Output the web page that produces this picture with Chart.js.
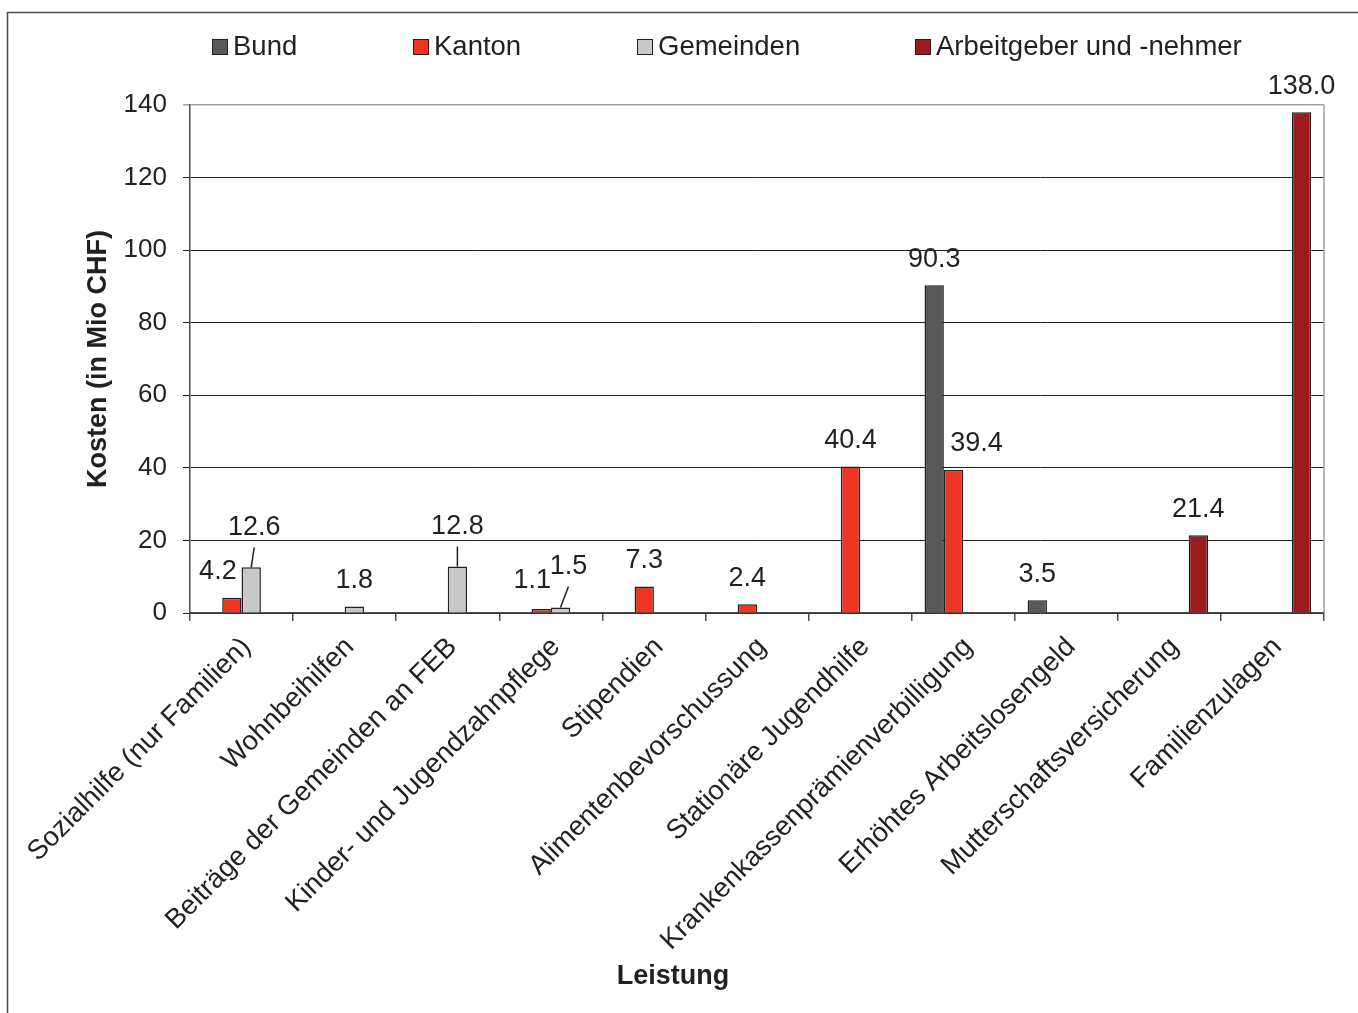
<!DOCTYPE html>
<html>
<head>
<meta charset="utf-8">
<title>Kosten nach Leistung</title>
<script src="https://cdn.jsdelivr.net/npm/chart.js@4.4.1/dist/chart.umd.min.js"></script>
<style>
  html, body { margin: 0; padding: 0; background: #fff; overflow: hidden; }
  #wrap { position: relative; width: 1358px; height: 1013px; }
</style>
</head>
<body>
<div id="wrap"><canvas id="chart" width="1358" height="1013"></canvas></div>
<script>
  "use strict";

  // Daten
  const categories = [
    "Sozialhilfe (nur Familien)", "Wohnbeihilfen", "Beiträge der Gemeinden an FEB",
    "Kinder- und Jugendzahnpflege", "Stipendien", "Alimentenbevorschussung",
    "Stationäre Jugendhilfe", "Krankenkassenprämienverbilligung",
    "Erhöhtes Arbeitslosengeld", "Mutterschaftsversicherung", "Familienzulagen"
  ];
  const bund        = [null, null, null, null, null, null, null, 90.3, 3.5, null, null];
  const kanton      = [4.2, null, null, 1.1, 7.3, 2.4, 40.4, 39.4, null, null, null];
  const gemeinden   = [12.6, 1.8, 12.8, 1.5, null, null, null, null, null, null, null];
  const arbeitgeber = [null, null, null, null, null, null, null, null, null, 21.4, 138.0];
  const yTicks = [0, 20, 40, 60, 80, 100, 120, 140];

  const INK = "#231f20";
  const FONT = "'Liberation Sans', Arial, sans-serif";

  // einzelne Beschriftungen, die in Excel verschoben wurden
  const labelTweaks = {
    "1:0": { dx: -14 },
    "2:0": { dx: 3, dy: -14, leader: true },
    "2:2": { dy: -14, leader: true },
    "1:3": { dx: -9, dy: -2 },
    "2:3": { dx: 8, dy: -15, leader: true },
    "1:7": { dx: 23 }
  };

  const valueLabels = {
    id: "valueLabels",
    afterDatasetsDraw(chart) {
      const ctx = chart.ctx;
      ctx.save();
      ctx.font = "27px " + FONT;
      ctx.fillStyle = INK;
      ctx.strokeStyle = INK;
      ctx.lineWidth = 1.5;
      ctx.textAlign = "center";
      ctx.textBaseline = "middle";
      chart.data.datasets.forEach((ds, i) => {
        chart.getDatasetMeta(i).data.forEach((bar, j) => {
          const v = ds.data[j];
          if (v === null || v === undefined) return;
          const t = labelTweaks[i + ":" + j] || {};
          const cx = bar.x + (t.dx || 0);
          const cy = bar.y - 26 + (t.dy || 0);
          ctx.fillText(v.toFixed(1), cx, cy);
          if (t.leader) {
            ctx.beginPath();
            ctx.moveTo(cx, cy + 20);
            ctx.lineTo(bar.x, bar.y);
            ctx.stroke();
          }
        });
      });
      ctx.restore();
    }
  };

  const frame = {
    id: "frame",
    beforeDatasetsDraw(chart) {
      const { ctx, chartArea: a } = chart;
      ctx.save();
      ctx.strokeStyle = "#a0a0a0";
      ctx.lineWidth = 1.5;
      ctx.beginPath();
      ctx.moveTo(a.right, a.top);
      ctx.lineTo(a.right, a.bottom);
      ctx.stroke();
      ctx.restore();
    },
    afterDraw(chart) {
      const ctx = chart.ctx;
      ctx.save();
      // Rahmen um das ganze Diagramm
      ctx.strokeStyle = "#4d4d4d";
      ctx.lineWidth = 1.5;
      ctx.beginPath();
      ctx.moveTo(7.5, chart.height);
      ctx.lineTo(7.5, 12.5);
      ctx.lineTo(chart.width, 12.5);
      ctx.stroke();

      // Legende
      const xs = [212, 413, 637, 915];
      ctx.font = "27.5px " + FONT;
      ctx.textBaseline = "alphabetic";
      ctx.textAlign = "left";
      chart.data.datasets.forEach((ds, i) => {
        ctx.fillStyle = ds.backgroundColor;
        ctx.fillRect(xs[i], 39, 16, 16);
        ctx.strokeStyle = INK;
        ctx.lineWidth = 1;
        ctx.strokeRect(xs[i] + 0.5, 39.5, 15, 15);
        ctx.fillStyle = INK;
        ctx.fillText(ds.label, xs[i] + 21, 55);
      });

      // Achsentitel x
      ctx.font = "bold 27px " + FONT;
      ctx.textAlign = "center";
      ctx.textBaseline = "middle";
      ctx.fillText("Leistung", 673, 977);
      ctx.restore();
    }
  };

  const bar = (label, data, color) => ({
    label, data,
    backgroundColor: color,
    borderColor: INK,
    borderWidth: 1.5,
    categoryPercentage: 0.75,
    barPercentage: 1
  });

  new Chart(document.getElementById("chart"), {
    type: "bar",
    data: {
      labels: categories,
      datasets: [
        bar("Bund", bund, "#58595b"),
        bar("Kanton", kanton, "#ee3524"),
        bar("Gemeinden", gemeinden, "#c8c9ca"),
        bar("Arbeitgeber und -nehmer", arbeitgeber, "#9b1b1f")
      ]
    },
    options: {
      responsive: false,
      animation: false,
      devicePixelRatio: 1,
      layout: { padding: { top: 105, right: 34, left: 0, bottom: 0 } },
      plugins: {
        legend: { display: false },
        tooltip: { enabled: false }
      },
      scales: {
        x: {
          grid: { offset: true, drawOnChartArea: false, drawTicks: true, tickLength: 8, color: "#4d4d4d", lineWidth: 1.5 },
          border: { color: "#4d4d4d", width: 1.5 },
          ticks: {
            color: INK, font: { family: FONT, size: 27.5 },
            minRotation: 45, maxRotation: 45, autoSkip: false,
            padding: 10, labelOffset: 5
          },
          afterFit(s) { s.height = 400; }
        },
        y: {
          min: 0, max: 140,
          afterBuildTicks(s) { s.ticks = yTicks.map((v) => ({ value: v })); },
          grid: {
            color: (c) => (c.tick && c.tick.value === 140 ? "#a0a0a0" : INK),
            lineWidth: (c) => (c.tick && c.tick.value === 140 ? 1.5 : 1),
            tickLength: 7
          },
          border: { color: "#4d4d4d", width: 1.5 },
          ticks: { color: INK, font: { family: FONT, size: 26 }, padding: 16 },
          title: {
            display: true, text: "Kosten (in Mio CHF)", color: INK,
            font: { family: FONT, size: 27, weight: "bold" },
            padding: { top: 82, bottom: 0 }
          },
          afterFit(s) { s.width = 190; }
        }
      }
    },
    plugins: [frame, valueLabels]
  });
</script>
</body>
</html>
